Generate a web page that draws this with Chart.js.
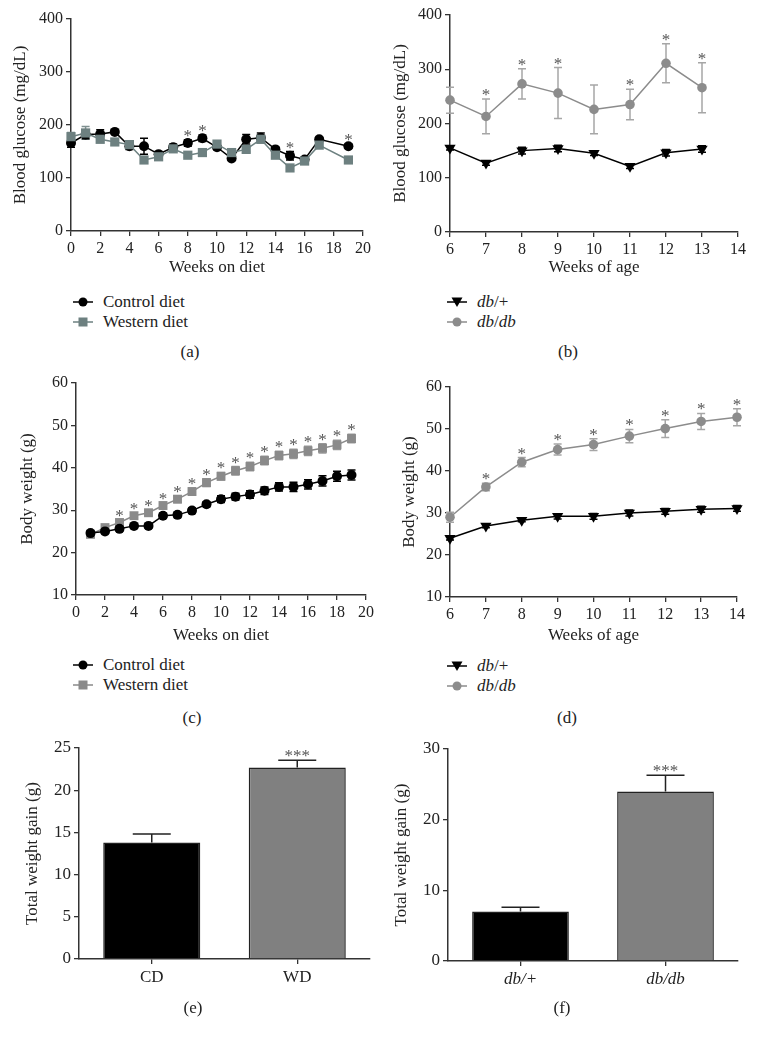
<!DOCTYPE html>
<html><head><meta charset="utf-8">
<script src="https://cdn.jsdelivr.net/npm/chart.js@4.4.1/dist/chart.umd.min.js"></script>
<style>
body{margin:0;background:#fff;width:760px;height:1042px;position:relative;overflow:hidden;font-family:'Liberation Serif',serif;color:#222}
canvas{position:absolute}
.lbl{position:absolute;font-size:17px;width:60px;margin-left:-30px;text-align:center;line-height:20px}
.leg{position:absolute;font-size:17px;display:flex;align-items:center;height:20px;line-height:20px;white-space:nowrap}
.leg svg{margin-right:10px}
i{font-style:italic}
</style></head><body>
<canvas id="ca" width="380" height="282" style="left:0;top:0"></canvas>
<canvas id="cb" width="380" height="282" style="left:380px;top:0"></canvas>
<canvas id="cc" width="380" height="280" style="left:0;top:370px"></canvas>
<canvas id="cd" width="380" height="280" style="left:380px;top:370px"></canvas>
<canvas id="ce" width="380" height="270" style="left:0;top:730px"></canvas>
<canvas id="cf" width="380" height="270" style="left:380px;top:730px"></canvas>

<div class="leg" style="left:73px;top:292px"><svg width="20" height="12"><line x1="0" y1="6" x2="20" y2="6" stroke="#000" stroke-width="1.5"/><circle cx="10" cy="6" r="4.5" fill="#000"/></svg>Control diet</div>
<div class="leg" style="left:73px;top:312px"><svg width="20" height="12"><line x1="0" y1="6" x2="20" y2="6" stroke="#6d8080" stroke-width="1.5"/><rect x="5.5" y="1.5" width="9" height="9" fill="#6d8080"/></svg>Western diet</div>
<div class="leg" style="left:447px;top:292px"><svg width="20" height="12"><line x1="0" y1="6" x2="20" y2="6" stroke="#000" stroke-width="1.5"/><polygon points="4.5,1.5 15.5,1.5 10,11" fill="#000"/></svg><i>db</i>/+</div>
<div class="leg" style="left:447px;top:312px"><svg width="20" height="12"><line x1="0" y1="6" x2="20" y2="6" stroke="#8c8c8c" stroke-width="1.5"/><circle cx="10" cy="6" r="4.5" fill="#8c8c8c"/></svg><i>db</i>/<i>db</i></div>
<div class="lbl" style="left:190px;top:342px">(a)</div>
<div class="lbl" style="left:568px;top:342px">(b)</div>

<div class="leg" style="left:73px;top:655px"><svg width="20" height="12"><line x1="0" y1="6" x2="20" y2="6" stroke="#000" stroke-width="1.5"/><circle cx="10" cy="6" r="4.5" fill="#000"/></svg>Control diet</div>
<div class="leg" style="left:73px;top:675px"><svg width="20" height="12"><line x1="0" y1="6" x2="20" y2="6" stroke="#8a8a8a" stroke-width="1.5"/><rect x="5.5" y="1.5" width="9" height="9" fill="#8a8a8a"/></svg>Western diet</div>
<div class="leg" style="left:447px;top:656px"><svg width="20" height="12"><line x1="0" y1="6" x2="20" y2="6" stroke="#000" stroke-width="1.5"/><polygon points="4.5,1.5 15.5,1.5 10,11" fill="#000"/></svg><i>db</i>/+</div>
<div class="leg" style="left:447px;top:676px"><svg width="20" height="12"><line x1="0" y1="6" x2="20" y2="6" stroke="#8c8c8c" stroke-width="1.5"/><circle cx="10" cy="6" r="4.5" fill="#8c8c8c"/></svg><i>db</i>/<i>db</i></div>
<div class="lbl" style="left:192px;top:708px">(c)</div>
<div class="lbl" style="left:567px;top:708px">(d)</div>
<div class="lbl" style="left:193px;top:998px">(e)</div>
<div class="lbl" style="left:562px;top:998px">(f)</div>

<script>
// ---------- DATA ----------
// (a) Blood glucose, diet study
const weeksA = [0,1,2,3,4,5,6,7,8,9,10,11,12,13,14,15,16,17,19];
const ctrlGlucose = [166,182,183,187,160,160,145,158,166,175,158,137,173,176,154,142,135,173,160];
const ctrlGlucoseErr = [8,8,8,4,6,15,4,6,6,6,4,3,9,9,4,8,4,4,4];
const westGlucose = [178,185,173,168,163,134,140,155,143,148,164,148,154,173,143,119,132,162,134];
const westGlucoseErr = [8,12,5,6,4,5,4,5,4,4,4,4,5,6,4,4,4,4,4];
const starsA = [8,9,15,19];
const xTicksA = [0,20,2];
const yTicksA = [0,400,100];

// (b) Blood glucose, db mice
const weeksB = [6,7,8,9,10,11,12,13];
const dbPlusGlucose = [155,127,150,154,145,121,146,153];
const dbPlusGlucoseErr = [4,4,6,6,4,4,6,6];
const dbdbGlucose = [243,213,273,256,226,235,311,266];
const dbdbGlucoseErr = [24,32,28,47,45,28,36,46];
const starsB = [7,8,9,11,12,13];
const xTicksB = [6,14,1];
const yTicksB = [0,400,100];

// (c) Body weight, diet study
const weeksC = [1,2,3,4,5,6,7,8,9,10,11,12,13,14,15,16,17,18,19];
const ctrlWeight = [24.6,25.0,25.6,26.3,26.3,28.7,28.9,29.9,31.4,32.6,33.2,33.7,34.6,35.5,35.5,36.1,36.9,38.0,38.3];
const ctrlWeightErr = [0.5,0.5,0.5,0.5,0.5,0.6,0.6,0.6,0.6,0.8,0.8,0.9,0.9,1.0,1.1,1.1,1.2,1.2,1.2];
const westWeight = [24.3,25.9,27.1,28.7,29.4,31.1,32.6,34.4,36.5,38.0,39.3,40.3,41.7,42.9,43.3,44.0,44.6,45.4,46.9];
const westWeightErr = [0.5,0.5,0.6,0.6,0.6,0.7,0.8,0.8,0.9,0.9,1.0,1.0,1.0,1.0,1.1,1.1,1.1,1.1,1.0];
const starsC = [3,4,5,6,7,8,9,10,11,12,13,14,15,16,17,18,19];
const xTicksC = [0,20,2];
const yTicksC = [10,60,10];

// (d) Body weight, db mice
const weeksD = [6,7,8,9,10,11,12,13,14];
const dbPlusWeight = [24.0,26.9,28.3,29.2,29.2,30.0,30.4,30.9,31.1];
const dbPlusWeightErr = [0.4,0.4,0.4,0.6,0.7,0.7,0.7,0.7,0.7];
const dbdbWeight = [29.0,36.2,42.1,45.1,46.3,48.3,50.1,51.8,52.8];
const dbdbWeightErr = [1.2,0.9,1.1,1.3,1.4,1.6,2.1,1.9,2.0];
const starsD = [7,8,9,10,11,12,13,14];
const xTicksD = [6,14,1];
const yTicksD = [10,60,10];

// (e) Total weight gain, diet
const groupsE = ['CD','WD'];
const gainE = [13.8,22.7];
const gainEErr = [1.0,0.85];
const starsE = ['','***'];
const yTicksE = [0,25,5];

// (f) Total weight gain, db mice
const groupsF = ['db/+','db/db'];
const gainF = [7.0,24.0];
const gainFErr = [0.6,2.3];
const starsF = ['','***'];
const yTicksF = [0,30,10];

// ---------- RENDER ----------
const F = "'Liberation Serif', serif";
const AX = '#333';

function drawErrs(chart, behind){
  const ctx = chart.ctx, ys = chart.scales.y;
  chart.data.datasets.forEach((ds, di) => {
    if (!ds.errs || (!!ds.errBehind) !== behind) return;
    const meta = chart.getDatasetMeta(di);
    ctx.save();
    ctx.strokeStyle = ds.errColor || '#000';
    ctx.lineWidth = ds.errWidth || 1.5;
    meta.data.forEach((el, i) => {
      const v = typeof ds.data[i] === 'object' ? ds.data[i].y : ds.data[i];
      const e = ds.errs[i];
      const x = el.x;
      const yt = ys.getPixelForValue(v + e);
      const yb = ds.upOnly ? ys.getPixelForValue(v) : ys.getPixelForValue(v - e);
      const cw = ds.capW || 4;
      ctx.beginPath();
      ctx.moveTo(x, yt); ctx.lineTo(x, yb);
      ctx.moveTo(x - cw, yt); ctx.lineTo(x + cw, yt);
      if (!ds.upOnly) { ctx.moveTo(x - cw, yb); ctx.lineTo(x + cw, yb); }
      ctx.stroke();
    });
    ctx.restore();
  });
}
function drawStars(chart){
  const ctx = chart.ctx, ys = chart.scales.y;
  chart.data.datasets.forEach((ds, di) => {
    if (!ds.stars) return;
    const meta = chart.getDatasetMeta(di);
    ctx.save();
    ctx.fillStyle = '#555';
    ctx.font = (ds.starSize || 17) + "px " + F;
    ctx.textAlign = 'center';
    ctx.textBaseline = 'alphabetic';
    meta.data.forEach((el, i) => {
      const s = ds.stars[i];
      if (!s) return;
      const v = typeof ds.data[i] === 'object' ? ds.data[i].y : ds.data[i];
      const yt = ys.getPixelForValue(v + ds.errs[i]);
      ctx.fillText(s, el.x, yt + 1);
    });
    ctx.restore();
  });
}
const errPlugin = {
  id: 'errs',
  beforeDatasetsDraw(c){ drawErrs(c, true); },
  afterDatasetsDraw(c){ drawErrs(c, false); drawStars(c); }
};

function yAxis(t, title, titlePad, width, fs){
  return {
    type: 'linear', min: t[0], max: t[1],
    ticks: {stepSize: t[2], color: '#222', font: {family: F, size: fs || 16}, padding: 3},
    grid: {display: true, drawOnChartArea: false, drawTicks: true, tickLength: 5, color: AX, lineWidth: 1.3},
    border: {display: true, color: AX, width: 1.5},
    title: {display: true, text: title, color: '#222', font: {family: F, size: 17}, padding: {top: titlePad, bottom: 0}},
    afterFit: s => { s.width = width; }
  };
}
function xLinear(t, title, height){
  return {
    type: 'linear', min: t[0], max: t[1],
    ticks: {stepSize: t[2], color: '#222', font: {family: F, size: 16}, padding: 3, autoSkip: false, maxRotation: 0},
    grid: {display: true, drawOnChartArea: false, drawTicks: true, tickLength: 5, color: AX, lineWidth: 1.3},
    border: {display: true, color: AX, width: 1.5},
    title: {display: true, text: title, color: '#222', font: {family: F, size: 17}, padding: {top: 0, bottom: 4}},
    afterFit: s => { s.height = height; }
  };
}
function pts(xs, ys){ return xs.map((x, i) => ({x: x, y: ys[i]})); }
function starFlags(xs, list){ return xs.map(x => list.includes(x) ? '*' : ''); }

function lineDS(xs, vals, errs, color, style, radius, errColor, stars, rot){
  return {
    data: pts(xs, vals), errs: errs, errColor: errColor || color, errBehind: true, capW: 4,
    borderColor: color, backgroundColor: color, borderWidth: 1.5,
    pointStyle: style, pointRadius: radius, pointRotation: rot || 0,
    pointBorderWidth: 0, pointBackgroundColor: color, clip: false,
    stars: stars
  };
}
function lineChart(id, datasets, xs, ys, pad){
  new Chart(document.getElementById(id), {
    type: 'line',
    data: {datasets: datasets},
    options: {
      responsive: false, animation: false, devicePixelRatio: 1,
      layout: {padding: pad},
      plugins: {legend: {display: false}, tooltip: {enabled: false}},
      scales: {x: xs, y: ys}
    },
    plugins: [errPlugin]
  });
}

// (a)
lineChart('ca', [
  lineDS(weeksA, westGlucose, westGlucoseErr, '#6d8080', 'rect', 6.5, '#7f9090', null),
  lineDS(weeksA, ctrlGlucose, ctrlGlucoseErr, '#000', 'circle', 5, '#000', starFlags(weeksA, starsA))
], xLinear(xTicksA, 'Weeks on diet', 51), yAxis(yTicksA, 'Blood glucose (mg/dL)', 10, 71), {left: 0, top: 19, right: 17, bottom: 0});

// (b)
lineChart('cb', [
  lineDS(weeksB, dbPlusGlucose, dbPlusGlucoseErr, '#000', 'triangle', 6.5, '#000', null, 180),
  lineDS(weeksB, dbdbGlucose, dbdbGlucoseErr, '#8c8c8c', 'circle', 4.8, '#a6a6a6', starFlags(weeksB, starsB))
], xLinear(xTicksB, 'Weeks of age', 50), yAxis(yTicksB, 'Blood glucose (mg/dL)', 10, 70), {left: 0, top: 15, right: 22, bottom: 0});

// (c)
lineChart('cc', [
  lineDS(weeksC, ctrlWeight, ctrlWeightErr, '#000', 'circle', 5, '#000', null),
  lineDS(weeksC, westWeight, westWeightErr, '#8a8a8a', 'rect', 6.3, '#9a9a9a', starFlags(weeksC, starsC))
], xLinear(xTicksC, 'Weeks on diet', 55), yAxis(yTicksC, 'Body weight (g)', 17, 76), {left: 0, top: 13, right: 14, bottom: 0});

// (d)
lineChart('cd', [
  lineDS(weeksD, dbPlusWeight, dbPlusWeightErr, '#000', 'triangle', 6.5, '#000', null, 180),
  lineDS(weeksD, dbdbWeight, dbdbWeightErr, '#8c8c8c', 'circle', 4.8, '#a6a6a6', starFlags(weeksD, starsD))
], xLinear(xTicksD, 'Weeks of age', 53), yAxis(yTicksD, 'Body weight (g)', 19, 70), {left: 0, top: 17, right: 23, bottom: 0});

// bars
function barChart(id, labels, vals, errs, stars, yt, titlePad, yWidth, xHeight, pad, italic){
  new Chart(document.getElementById(id), {
    type: 'bar',
    data: {labels: labels, datasets: [{
      data: vals, errs: errs, upOnly: true, capW: 19, errColor: '#222', errWidth: 1.5,
      stars: stars, starSize: 17,
      backgroundColor: ['#000', '#808080'], borderColor: '#222', borderWidth: 1.5,
      barPercentage: 0.667, categoryPercentage: 1
    }]},
    options: {
      responsive: false, animation: false, devicePixelRatio: 1,
      layout: {padding: pad},
      plugins: {legend: {display: false}, tooltip: {enabled: false}},
      scales: {
        x: {
          type: 'category',
          ticks: {color: '#222', font: {family: F, size: 17, style: italic ? 'italic' : 'normal'}, padding: 3, maxRotation: 0},
          grid: {display: true, offset: false, drawOnChartArea: false, drawTicks: true, tickLength: 5, color: AX, lineWidth: 1.3},
          border: {display: true, color: AX, width: 1.5},
          afterFit: s => { s.height = xHeight; }
        },
        y: yAxis(yt, 'Total weight gain (g)', titlePad, yWidth, 17)
      }
    },
    plugins: [errPlugin]
  });
}
barChart('ce', groupsE, gainE, gainEErr, starsE, yTicksE, 22, 79, 41, {left: 0, top: 18, right: 10, bottom: 0}, false);
barChart('cf', groupsF, gainF, gainFErr, starsF, yTicksF, 11, 68, 39, {left: 0, top: 19, right: 22, bottom: 0}, true);
</script>
</body></html>
